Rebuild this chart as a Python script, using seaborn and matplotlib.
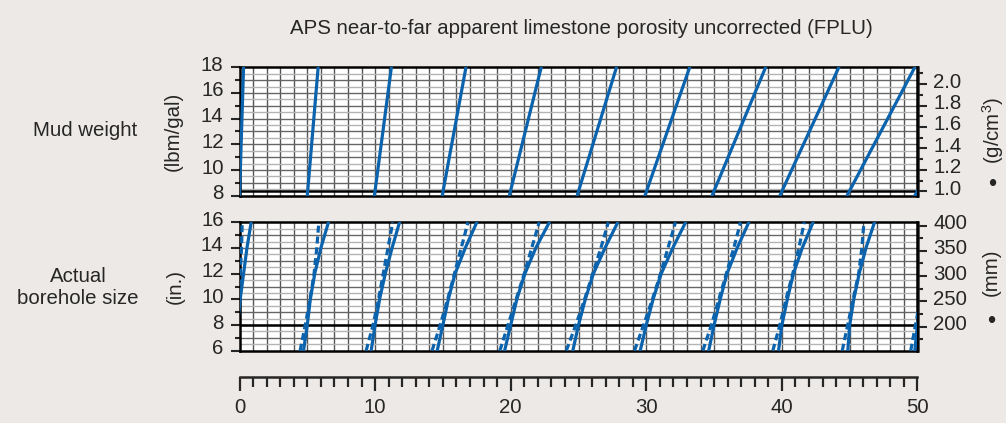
import numpy as np
import pandas as pd
import matplotlib
matplotlib.use('Agg')
import matplotlib.pyplot as plt
import seaborn as sns
from matplotlib.transforms import ScaledTranslation

# ---------------------------------------------
# data
# ---------------------------------------------
porosity_ref = [0, 5, 10, 15, 20, 25, 30, 35, 40, 45, 50]

# mud weight panel: porosity where each line crosses 8 and 18 lbm/gal
mud_weight = [8.0, 18.0]
mud_at_8 = [0.0, 5.0, 9.95, 14.95, 19.9, 24.9, 29.9, 34.85, 39.85, 44.8, 49.8]
mud_at_18 = [0.3, 5.8, 11.2, 16.7, 22.25, 27.8, 33.2, 38.8, 44.2, 49.8, 55.3]

# borehole size panel: solid and dashed curves at 6 ... 16 in.
hole_size = [6.0, 8.0, 10.0, 12.0, 14.0, 16.0]
solid_6 = [-0.6, 4.72, 9.71, 14.58, 19.55, 24.58, 29.55, 34.6, 39.75, 44.86, 49.8]
solid_8 = [-0.15, 5.0, 10.0, 15.0, 20.0, 25.0, 30.0, 35.0, 40.0, 45.0, 50.0]
solid_10 = [0.05, 5.22, 10.33, 15.4, 20.45, 25.5, 30.5, 35.45, 40.4, 45.3, 50.3]
solid_12 = [0.3, 5.55, 10.75, 15.9, 21.05, 26.1, 31.1, 35.95, 40.85, 45.7, 50.6]
solid_14 = [0.55, 6.0, 11.25, 16.65, 21.85, 26.95, 31.95, 36.7, 41.5, 46.2, 51.2]
solid_16 = [0.86, 6.56, 11.8, 17.5, 22.85, 27.9, 32.9, 37.56, 42.3, 46.83, 52.0]

dashed_6 = [-0.8, 4.47, 9.34, 14.2, 19.2, 24.1, 29.13, 34.17, 39.33, 44.45, 49.5]
dashed_8 = [-0.4, 4.85, 9.85, 14.8, 19.8, 24.8, 29.8, 34.8, 39.85, 44.85, 49.85]
dashed_10 = [-0.15, 5.2, 10.25, 15.35, 20.4, 25.45, 30.45, 35.35, 40.3, 45.25, 50.2]
dashed_12 = [0.05, 5.5, 10.6, 15.85, 21.0, 26.05, 31.05, 35.9, 40.8, 45.66, 50.5]
dashed_14 = [0.15, 5.7, 10.95, 16.35, 21.55, 26.65, 31.6, 36.45, 41.25, 45.9, 50.8]
dashed_16 = [0.2, 5.85, 11.3, 16.85, 22.1, 27.2, 32.15, 36.95, 41.65, 46.05, 51.0]

# long tables for seaborn
mud_rows = []
for i, p in enumerate(porosity_ref):
    for mw, val in zip(mud_weight, [mud_at_8[i], mud_at_18[i]]):
        mud_rows.append({'line': p, 'mw': mw, 'phi': val})
df_mud = pd.DataFrame(mud_rows)

solid_cols = [solid_6, solid_8, solid_10, solid_12, solid_14, solid_16]
dashed_cols = [dashed_6, dashed_8, dashed_10, dashed_12, dashed_14, dashed_16]
hole_rows = []
for i, p in enumerate(porosity_ref):
    for kind, cols in [('solid', solid_cols), ('dashed', dashed_cols)]:
        for hs, col in zip(hole_size, cols):
            hole_rows.append({'line': f'{kind}{p}', 'kind': kind, 'size': hs, 'phi': col[i]})
df_hole = pd.DataFrame(hole_rows)

# ---------------------------------------------
# style
# ---------------------------------------------
sns.set_style('white')
plt.rcParams['font.family'] = ['Liberation Sans', 'DejaVu Sans']
plt.rcParams['mathtext.default'] = 'regular'

BG = '#ece9e6'
BLUE = '#0b63ad'
W, H = 1006, 423
FS = 14.7

fig = plt.figure(figsize=(W / 100, H / 100), dpi=100, facecolor=BG)

left = 239.5 / W
width = (917.5 - 239.5) / W
ax_top = fig.add_axes([left, (H - 195.7) / H, width, (195.7 - 67.3) / H])
ax_bot = fig.add_axes([left, (H - 350.7) / H, width, (350.7 - 222.3) / H])
ax_x = fig.add_axes([left, (H - 377) / H, width, 0.0001])

up = ScaledTranslation(0, 4 / 100, fig.dpi_scale_trans)


def grid_panel(ax, y0, y1):
    ax.set_facecolor('white')
    for v in range(1, 50):
        ax.axvline(v, color='#555555', lw=1.0, zorder=1)
    for h in np.arange(y0 + 0.5, y1, 0.5):
        c = '#666666' if float(h).is_integer() else '#b4b4b4'
        ax.axhline(h, color=c, lw=1.0, zorder=1)
    for s in ax.spines.values():
        s.set_linewidth(1.8)
        s.set_color('black')
    ax.set_xlim(0, 50)
    ax.set_ylim(y0, y1)
    ax.set_xticks([])
    ax.set_xlabel('')
    ax.set_ylabel('')
    ax.tick_params(axis='y', which='major', length=6.5, width=1.5, labelsize=FS, pad=5, left=True)
    ax.tick_params(axis='y', which='minor', length=3.5, width=1.5, left=True)


# ---- top panel: mud weight
sns.lineplot(data=df_mud, x='phi', y='mw', units='line', estimator=None, sort=False,
             color=BLUE, lw=2.3, ax=ax_top, legend=False, zorder=3)
grid_panel(ax_top, 8, 18)
ax_top.axhline(8.345, color='black', lw=1.8, zorder=2)
ax_top.set_yticks([8, 10, 12, 14, 16, 18])
ax_top.set_yticks([9, 11, 13, 15, 17], minor=True)

sec_top = ax_top.secondary_yaxis('right', functions=(lambda x: x / 8.345, lambda x: x * 8.345))
sec_top.set_yticks([1.0, 1.2, 1.4, 1.6, 1.8, 2.0])
sec_top.set_yticklabels(['1.0', '1.2', '1.4', '1.6', '1.8', '2.0'])
sec_top.set_yticks([1.1, 1.3, 1.5, 1.7, 1.9, 2.1], minor=True)
sec_top.tick_params(which='major', length=6.5, width=1.5, labelsize=FS, pad=5)
sec_top.tick_params(which='minor', length=3.5, width=1.5)
sec_top.spines['right'].set_linewidth(1.8)

# ---- bottom panel: borehole size
sns.lineplot(data=df_hole, x='phi', y='size', units='line', style='kind', estimator=None,
             sort=False, color=BLUE, lw=2.3, ax=ax_bot, legend=False, zorder=3,
             dashes={'solid': '', 'dashed': (2.2, 1.2)})
grid_panel(ax_bot, 6, 16)
ax_bot.axhline(8, color='black', lw=1.8, zorder=2)
ax_bot.set_yticks([6, 8, 10, 12, 14, 16])
ax_bot.set_yticks([7, 9, 11, 13, 15], minor=True)

sec_bot = ax_bot.secondary_yaxis('right', functions=(lambda x: x * 25.4, lambda x: x / 25.4))
sec_bot.set_yticks([200, 250, 300, 350, 400])
sec_bot.set_yticklabels(['200', '250', '300', '350', '400'])
sec_bot.set_yticks([175, 225, 275, 325, 375], minor=True)
sec_bot.tick_params(which='major', length=6.5, width=1.5, labelsize=FS, pad=5)
sec_bot.tick_params(which='minor', length=3.5, width=1.5)
sec_bot.spines['right'].set_linewidth(1.8)

for a in [ax_top, ax_bot, sec_top, sec_bot]:
    for t in a.yaxis.get_major_ticks():
        t.label1.set_transform(t.label1.get_transform() + up)
        t.label2.set_transform(t.label2.get_transform() + up)

# ---- shared porosity scale
ax_x.set_facecolor('none')
for k in ['left', 'right', 'top']:
    ax_x.spines[k].set_visible(False)
ax_x.spines['bottom'].set_linewidth(1.8)
ax_x.set_xlim(0, 50)
ax_x.set_yticks([])
ax_x.set_xticks([0, 10, 20, 30, 40, 50])
ax_x.set_xticks(range(0, 51), minor=True)
ax_x.tick_params(axis='x', which='major', length=10, width=1.6, labelsize=FS, pad=5, bottom=True)
ax_x.tick_params(axis='x', which='minor', length=7.5, width=1.6, bottom=True)

# ---- texts
fig.text(581 / W, 1 - 28 / H, 'APS near-to-far apparent limestone porosity uncorrected (FPLU)',
         ha='center', va='center', fontsize=FS)
fig.text(85 / W, 1 - 130 / H, 'Mud weight', ha='center', va='center', fontsize=FS)
fig.text(78 / W, 1 - 288 / H, 'Actual\nborehole size', ha='center', va='center', fontsize=FS,
         linespacing=1.2)
fig.text(173 / W, 1 - 131 / H, '(lbm/gal)', rotation=90, ha='center', va='center', fontsize=FS)
fig.text(175 / W, 1 - 287 / H, '(in.)', rotation=90, ha='center', va='center', fontsize=FS)
fig.text(993 / W, 1 - 130 / H, '(g/cm$^3$)', rotation=90, ha='center', va='center', fontsize=FS)
fig.text(992 / W, 1 - 185 / H, '•', ha='center', va='center', fontsize=17)
fig.text(991 / W, 1 - 272 / H, '(mm)', rotation=90, ha='center', va='center', fontsize=FS)
fig.text(991 / W, 1 - 322 / H, '•', ha='center', va='center', fontsize=17)

fig.savefig('out.png', dpi=100, facecolor=BG)
